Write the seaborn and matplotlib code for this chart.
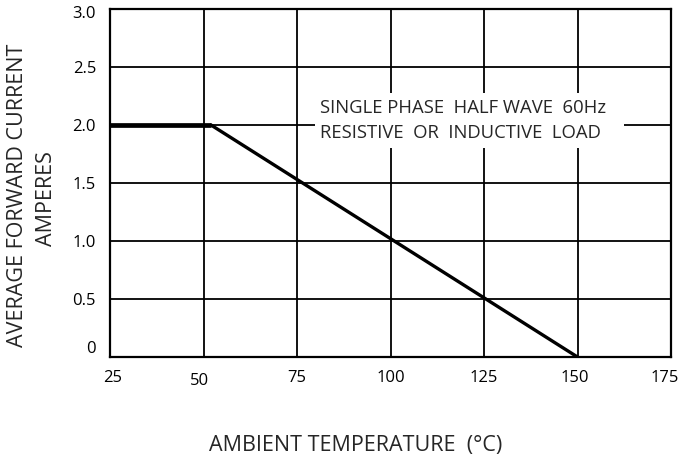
import matplotlib
matplotlib.use("Agg")
import matplotlib.pyplot as plt
import matplotlib.transforms as mtransforms
from matplotlib.patches import Rectangle
import seaborn as sns

# ---- data ----
flat_temp = [25, 52]
flat_current = [2.0, 2.0]
slope_temp = [52, 150]
slope_current = [2.0, 0.0]

x_ticks = [25, 50, 75, 100, 125, 150, 175]
x_tick_labels = ["25", "50", "75", "100", "125", "150", "175"]
y_ticks = [0, 0.5, 1.0, 1.5, 2.0, 2.5, 3.0]
y_tick_labels = ["0", "0.5", "1.0", "1.5", "2.0", "2.5", "3.0"]

note_lines = ["SINGLE PHASE  HALF WAVE  60Hz", "RESISTIVE  OR  INDUCTIVE  LOAD"]
x_label = "AMBIENT TEMPERATURE  (°C)"
y_label_1 = "AVERAGE FORWARD CURRENT"
y_label_2 = "AMPERES"

# ---- style ----
sns.set_style("white")
plt.rcParams['font.family'] = ['Open Sans', 'DejaVu Sans']

W, H = 681, 463
fig = plt.figure(figsize=(W / 100, H / 100), dpi=100)
ax = fig.add_axes([110 / W, 1 - 357 / H, 561 / W, 348 / H])

sns.lineplot(x=flat_temp, y=flat_current, ax=ax, color='black', lw=3.4,
             solid_capstyle='butt', zorder=3)
sns.lineplot(x=slope_temp, y=slope_current, ax=ax, color='black', lw=2.4,
             zorder=3)

ax.set_xlim(25, 175)
ax.set_ylim(0, 3)
ax.set_xticks(x_ticks)
ax.set_xticklabels(x_tick_labels)
ax.set_yticks(y_ticks)
ax.set_yticklabels(y_tick_labels)
ax.set_xlabel("")
ax.set_ylabel("")

ax.grid(True, color='black', lw=1.3)
ax.set_axisbelow(True)
for s in ax.spines.values():
    s.set_color('black')
    s.set_linewidth(1.6)
    s.set_visible(True)

ax.tick_params(axis='both', length=0, labelsize=12, colors='black')
ax.tick_params(axis='x', pad=9.5)
ax.tick_params(axis='y', pad=10)


def nudge(lab, dx, dy):
    lab.set_transform(lab.get_transform() +
                      mtransforms.ScaledTranslation(dx / 100, dy / 100, fig.dpi_scale_trans))


# small offsets of individual labels as in the reference
xlabels = ax.get_xticklabels()
for i, (dx, dy) in {0: (3, 0), 1: (-4, -3), 5: (-3, 0), 6: (-6, 0)}.items():
    nudge(xlabels[i], dx, dy)
ylabels = ax.get_yticklabels()
nudge(ylabels[0], 0, 10)
nudge(ylabels[6], 0, -3)

# annotation box
ax.add_patch(Rectangle((79.8, 1.80), 162.4 - 79.8, 2.276 - 1.80,
                       facecolor='white', edgecolor='none', zorder=1.5))
ax.text(81.2, 2.147, note_lines[0], fontsize=13.3, ha='left', va='center', zorder=4)
ax.text(81.2, 1.931, note_lines[1], fontsize=13.3, ha='left', va='center', zorder=4)

fig.text(356 / W, 1 - 446 / H, x_label, ha='center', va='center', fontsize=15.5)
fig.text(18 / W, 1 - 195 / H, y_label_1, ha='center', va='center', fontsize=15.5,
         rotation=90)
fig.text(46 / W, 1 - 199 / H, y_label_2, ha='center', va='center', fontsize=15.5,
         rotation=90)

fig.savefig("out.png", dpi=100, facecolor='white')
